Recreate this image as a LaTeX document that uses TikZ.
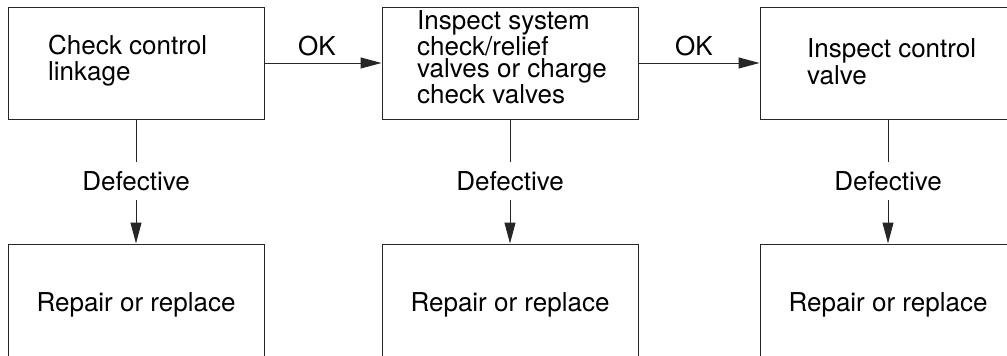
\documentclass[tikz,border=0pt]{standalone}
\usepackage{fontspec}
\setmainfont{TeX Gyre Heros}
\usetikzlibrary{arrows.meta}
\begin{document}
\begin{tikzpicture}[x=1pt,y=-1pt,
    box/.style={draw=black!85, line width=1pt, minimum width=256pt, minimum height=112pt, inner sep=0pt},
    lowbox/.style={draw=black!85, line width=1pt, minimum width=256pt, minimum height=122pt, inner sep=0pt,
      font=\fontsize{26}{26}\selectfont, text height=19pt, text depth=5.5pt},
    boxtext/.style={anchor=base west, align=left, inner sep=0pt},
    tag/.style={inner sep=0pt, font=\fontsize{26}{26}\selectfont},
    deftag/.style={tag, text height=18pt, text depth=0pt, inner ysep=10pt},
    link/.style={draw=black!85, line width=1pt},
    flow/.style={link, -{Triangle[length=21pt,width=11pt]}}]
  \useasboundingbox (0,0) rectangle (1007,356);
  \clip (0,0) rectangle (1007,356);

  % first row: checks (text anchored at the baseline of its last line)
  \node[box] (b1) at (136,63) {};
  \node[box] (b2) at (510,63) {};
  \node[box] (b3) at (888,63) {};
  \node[boxtext, font=\fontsize{26}{26}\selectfont] (t1) at (48,80) {Check control\\linkage};
  \node[boxtext, font=\fontsize{26}{22}\selectfont] (t2) at (417,103) {Inspect system\\check/relief\\valves or charge\\check valves};
  \node[boxtext, font=\fontsize{26}{27}\selectfont] (t3) at (807,84) {Inspect control\\valve};

  % second row: remedies
  \node[lowbox] (r1) at (136,305) {Repair or replace};
  \node[lowbox] (r2) at (510,305) {Repair or replace};
  \node[lowbox] (r3) at (888,305) {Repair or replace};

  % OK branches
  \draw[flow] (b1.east) -- (b2.west);
  \draw[flow] (b2.east) -- (b3.west);
  \node[tag, anchor=base] (ok1) at (317,55) {OK};
  \node[tag, anchor=base] (ok2) at (694,55) {OK};

  % defective branches
  \node[deftag, anchor=base] (d1) at (136,190) {Defective};
  \node[deftag, anchor=base] (d2) at (510,190) {Defective};
  \node[deftag, anchor=base] (d3) at (888,190) {Defective};
  \draw[link] (b1.south) -- (d1.north);
  \draw[link] (b2.south) -- (d2.north);
  \draw[link] (b3.south) -- (d3.north);
  \draw[flow] (d1.south) -- (r1.north);
  \draw[flow] (d2.south) -- (r2.north);
  \draw[flow] (d3.south) -- (r3.north);
\end{tikzpicture}
\end{document}
